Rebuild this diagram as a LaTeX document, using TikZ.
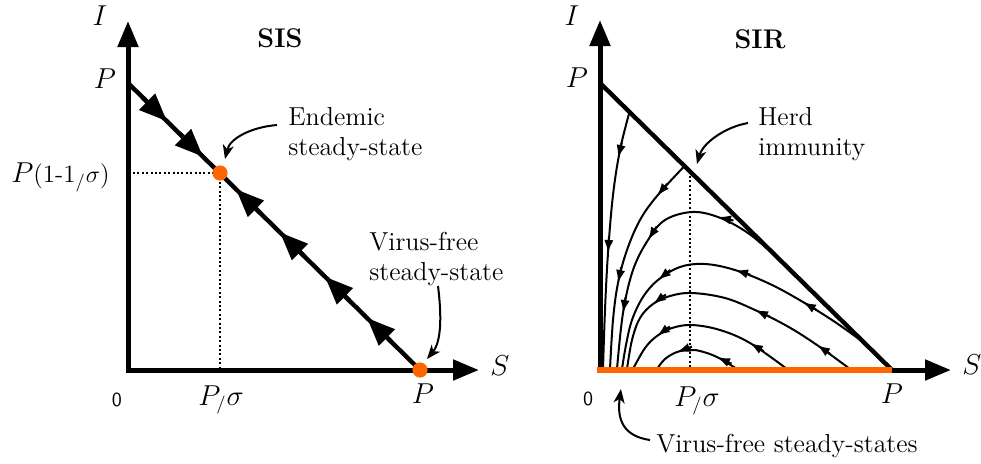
\documentclass[tikz,border=0pt]{standalone}
\usetikzlibrary{arrows.meta}
\definecolor{sorange}{RGB}{255,102,0}
\newcommand\tarr[2]{\draw[traj,-{Latex[length=6.5pt,width=4.6pt]}] #1 -- #2;}
\newcommand\barr[2]{\draw[bigarr] #1 -- #2;}
\begin{document}
\begin{tikzpicture}[x=0.5pt,y=-0.5pt,
  axis/.style={line width=2.5pt,{Triangle[length=13pt,width=10pt]}-{Triangle[length=13pt,width=10pt]}},
  diag/.style={line width=2.2pt},
  traj/.style={line width=1pt},
  dotl/.style={line width=1pt,dash pattern=on 1pt off 1.2pt},
  note/.style={line width=1pt,-{Stealth[length=7pt,width=5.5pt,inset=2pt]}},
  bigarr/.style={line width=2.2pt,-{Triangle[length=14pt,width=11pt]}},
  lbl/.style={font=\fontsize{13.5}{16}\selectfont,inner sep=0pt,anchor=base},
  txt/.style={font=\fontsize{13}{15}\selectfont,inner sep=0pt,align=left,anchor=west},
  ttl/.style={font=\fontsize{13.5}{16}\selectfont\bfseries,inner sep=0pt,anchor=base},
  zero/.style={font=\sffamily\fontsize{10}{12}\selectfont,inner sep=0pt,anchor=base}]
\useasboundingbox (0,0) rectangle (981,463);

% ---------------- SIS ----------------
\coordinate (O1) at (128,370);
\coordinate (Ytip1) at (128,21);
\coordinate (Xtip1) at (479,370);
\coordinate (Ptop1) at (128,83);
\coordinate (Pend1) at (420,370);
\coordinate (E1) at (220,173);

\draw[dotl] (133,173) -- (E1);
\draw[dotl] (E1) -- (220,368);
\draw[axis] (Ytip1) -- (O1) -- (Xtip1);
\draw[diag] (Ptop1) -- (Pend1);

\barr{(142.8,97.5)}{(167,121.3)}
\barr{(178.8,132.9)}{(203,156.7)}
\barr{(260.2,213.0)}{(236,189.2)}
\barr{(304.2,256.2)}{(280,232.4)}
\barr{(349.2,300.5)}{(325,276.7)}
\barr{(391.2,341.7)}{(367,317.9)}

\fill[sorange] (E1) circle[radius=3.8pt];
\fill[sorange] (Pend1) circle[radius=3.8pt];

\node[lbl] (I1) at (100,25) {$I$};
\node[lbl] (P1) at (105,88) {$P$};
\node[ttl] (sis) at (280,47) {SIS};
\node[lbl,anchor=base east] (Pe) at (110,182) {$P$\fontsize{12.5}{14}\selectfont(1-1$_{/}\sigma$)};
\node[zero] (z1) at (117,406) {0};
\node[lbl] (Ps1) at (221,405) {$P_{/}\sigma$};
\node[lbl] (Pb1) at (423,403) {$P$};
\node[lbl] (S1) at (500,375) {$S$};
\node[txt] (endemic) at (288,134) {Endemic\\steady-state};
\node[txt] (vf1) at (369,259) {Virus-free\\steady-state};

\coordinate (endS) at (277,125);
\coordinate (endT) at (225,159);
\draw[note] (endS) .. controls (252,127) and (230,138) .. (endT);
\coordinate (vf1S) at (438,286);
\coordinate (vf1T) at (427,359);
\draw[note] (vf1S) .. controls (442,318) and (441,342) .. (vf1T);

% ---------------- SIR ----------------
\coordinate (O2) at (600,370);
\coordinate (Ytip2) at (600,20);
\coordinate (Xtip2) at (951,370);
\coordinate (Ptop2) at (600,83);
\coordinate (Pend2) at (892,370);

\draw[dotl] (690,176) -- (690,368);
\draw[axis] (Ytip2) -- (O2) -- (Xtip2);

% trajectories
\draw[traj] plot[smooth,tension=0.6] coordinates {(629.5,112) (620,150) (613,195) (608,253) (605,310) (603,369)};
\draw[traj] plot[smooth,tension=0.6] coordinates {(684.5,166) (657,196) (640,220) (627,250) (618,283) (613,320) (610,369)};
\draw[traj] plot[smooth,tension=0.6] coordinates {(790,269.5) (770,251) (745,231) (718,217) (692,212) (665,220) (648,240) (633,270) (623,313) (617,369)};
\draw[traj] plot[smooth,tension=0.6] coordinates {(863,342) (835,322) (803,302) (770,284) (735,270) (705,264) (680,267) (658,280) (643,297) (632,320) (626,345) (622,369)};
\draw[traj] plot[smooth,tension=0.6] coordinates {(850,369) (817,345) (787,326) (755,310) (725,298) (692,293) (670,296) (653,304) (640,318) (632,340) (627,369)};
\draw[traj] plot[smooth,tension=0.6] coordinates {(787,369) (750,343) (720,330) (692,325) (672,328) (657,336) (645,348) (633,369)};
\draw[traj] plot[smooth,tension=0.6] coordinates {(737,369) (717,357) (700,351) (690,350) (677,352) (665,359) (657,369)};

\tarr{(621.8,142.5)}{(618,158)}
\tarr{(609,237)}{(608,253)}
\tarr{(667.2,183.7)}{(657,196)}
\tarr{(621.2,267.3)}{(618,283)}
\tarr{(733.5,220.5)}{(718,217)}
\tarr{(656.6,226.6)}{(648,240)}
\tarr{(625.6,297.2)}{(623,313)}
\tarr{(816.8,310.1)}{(803,302)}
\tarr{(750.3,274.7)}{(735,270)}
\tarr{(670.4,269.9)}{(658,280)}
\tarr{(830.3,353.9)}{(817,345)}
\tarr{(769.6,316.6)}{(755,310)}
\tarr{(665.9,294.5)}{(653,304)}
\tarr{(763.7,351.2)}{(750,343)}
\tarr{(669.9,326.5)}{(657,336)}
\tarr{(731.5,363.7)}{(717,357)}
\tarr{(692,346.6)}{(677,352)}

\draw[diag] (Ptop2) -- (Pend2);
\draw[line width=3.3pt,sorange] (597,370) -- (Pend2);

\node[lbl] (I2) at (572,25) {$I$};
\node[lbl] (P2) at (577,87) {$P$};
\node[ttl] (sir) at (760,48) {SIR};
\node[zero] (z2) at (588,405) {0};
\node[lbl] (Ps2) at (697,406) {$P_{/}\sigma$};
\node[lbl] (Pb2) at (892,403) {$P$};
\node[lbl] (S2) at (972,374) {$S$};
\node[txt] (herd) at (758,134) {Herd\\immunity};
\node[txt,anchor=base] (vfs) at (787,452) {Virus-free steady-states};

\coordinate (herdS) at (748,123);
\coordinate (herdT) at (697,164);
\draw[note] (herdS) .. controls (725,127) and (703,143) .. (herdT);
\coordinate (vf2S) at (650,440);
\coordinate (vf2T) at (621,389);
\draw[note] (vf2S) .. controls (622,436) and (617,418) .. (vf2T);
\end{tikzpicture}
\end{document}
